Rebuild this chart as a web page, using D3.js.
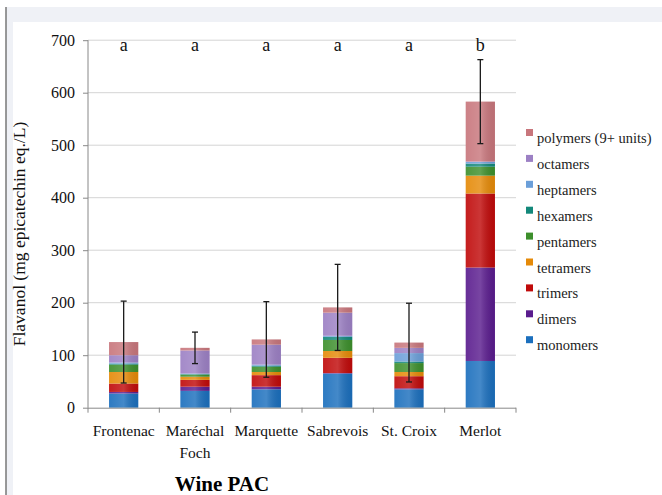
<!DOCTYPE html>
<html><head><meta charset="utf-8">
<script src="https://cdn.jsdelivr.net/npm/d3@7"></script>
<style>html,body{margin:0;padding:0;background:#fff;}svg{display:block;}</style>
</head><body>
<svg id="c" width="662" height="495"></svg>
<script>
const categories = ["Frontenac","Maréchal Foch","Marquette","Sabrevois","St. Croix","Merlot"];
const seriesNames = ["monomers","dimers","trimers","tetramers","pentamers","hexamers","heptamers","octamers","polymers (9+ units)"];
const monomers  = [27, 32, 35, 65, 35, 89];
const dimers    = [3, 8, 5, 1, 2, 178];
const trimers   = [16, 13, 22, 29, 23, 141];
const tetramers = [22, 6, 6, 13, 8, 34];
const pentamers = [14, 4, 10, 21, 17, 17];
const hexamers  = [2, 1, 2, 6, 3, 6];
const heptamers = [2, 1, 2, 2, 16, 3];
const octamers  = [14, 44, 38, 44, 10, 1];
const polymers  = [25, 5, 10, 10, 10, 114];
const errors    = [78, 30, 72, 82, 75, 80];
const letters   = ["a","a","a","a","a","b"];
const yTicks    = [0,100,200,300,400,500,600,700];
const colors    = ["#1b6fbd","#5a1c8e","#c00a0a","#e58a08","#3d8f2c","#13887a","#6b9fd9","#9c80c4","#c8767c"];

const seriesValues = [monomers,dimers,trimers,tetramers,pentamers,hexamers,heptamers,octamers,polymers];
const table = categories.map((c,i)=>{
  const o = {category:c};
  seriesNames.forEach((s,j)=>o[s]=seriesValues[j][i]);
  return o;
});

const svg = d3.select("#c");
const serif = "'Liberation Serif','Times New Roman',serif";

// frame
svg.append("rect").attr("x",6).attr("y",7).attr("width",656).attr("height",488).attr("fill","#eff1f6");
svg.append("rect").attr("x",13).attr("y",22).attr("width",649).attr("height",473).attr("fill","#fff");
svg.append("line").attr("x1",6).attr("x2",6).attr("y1",7).attr("y2",495).attr("stroke","#777").attr("stroke-width",1.5);

const x = d3.scaleBand().domain(categories).range([88,516]).padding(0);
const y = d3.scaleLinear().domain([0,700]).range([407.7,40.2]);

// gridlines
svg.append("g").selectAll("line").data(yTicks.filter(t=>t>0)).join("line")
  .attr("x1",88).attr("x2",516).attr("y1",d=>y(d)).attr("y2",d=>y(d))
  .attr("stroke","#d4d4d4").attr("stroke-width",1);

// gradient overlay
const defs = svg.append("defs");
const g = defs.append("linearGradient").attr("id","shine").attr("x1","0").attr("x2","1").attr("y1","0").attr("y2","0");
g.append("stop").attr("offset","0").attr("stop-color","#fff").attr("stop-opacity",0.08);
g.append("stop").attr("offset","0.5").attr("stop-color","#fff").attr("stop-opacity",0.18);
g.append("stop").attr("offset","1").attr("stop-color","#000").attr("stop-opacity",0.06);

const stack = d3.stack().keys(seriesNames)(table);
const bw = x.bandwidth()*0.41;
const off = (x.bandwidth()-bw)/2;

const layers = svg.append("g").selectAll("g").data(stack).join("g").attr("fill",(d,i)=>colors[i]);
layers.selectAll("rect").data(d=>d).join("rect")
  .attr("x",d=>x(d.data.category)+off).attr("width",bw)
  .attr("y",d=>y(d[1])).attr("height",d=>Math.max(0,y(d[0])-y(d[1])));
svg.append("g").selectAll("rect").data(table).join("rect")
  .attr("x",d=>x(d.category)+off).attr("width",bw)
  .attr("y",d=>y(d3.sum(seriesNames,s=>d[s]))).attr("height",d=>y(0)-y(d3.sum(seriesNames,s=>d[s])))
  .attr("fill","url(#shine)");

// error bars
const eb = svg.append("g").attr("stroke","#1a1a1a").attr("stroke-width",1.3);
table.forEach((d,i)=>{
  const tot = d3.sum(seriesNames,s=>d[s]);
  const cx = x(d.category)+x.bandwidth()/2;
  eb.append("line").attr("x1",cx).attr("x2",cx).attr("y1",y(tot+errors[i])).attr("y2",y(tot-errors[i]));
  [tot+errors[i],tot-errors[i]].forEach(v=>eb.append("line").attr("x1",cx-3).attr("x2",cx+3).attr("y1",y(v)).attr("y2",y(v)));
});

// axes
const ya = svg.append("g").attr("transform","translate(88,0)").call(d3.axisLeft(y).tickValues(yTicks).tickSize(5).tickPadding(8));
ya.select(".domain").attr("stroke","#888").attr("d","M0,"+y(700)+"V"+y(0));
ya.selectAll(".tick line").attr("stroke","#888");
ya.selectAll("text").attr("font-family",serif).attr("font-size",16).attr("fill","#111");

const xa = svg.append("g").attr("transform","translate(0,"+y(0)+")").call(d3.axisBottom(x).tickSize(0).tickFormat(""));
xa.select(".domain").attr("stroke","#888").attr("d","M88,0.5H516");
xa.selectAll(".tick").remove();
const bounds = categories.map(c=>x(c)).concat([x(categories[categories.length-1])+x.bandwidth()]);
xa.selectAll("line.b").data(bounds).join("line").attr("class","b")
  .attr("x1",d=>d).attr("x2",d=>d).attr("y1",0).attr("y2",5).attr("stroke","#888");

// category labels with wrapping
const labG = svg.append("g").attr("font-family",serif).attr("font-size",15.5).attr("fill","#111").attr("text-anchor","middle");
categories.forEach(c=>{
  const t = labG.append("text").attr("x",x(c)+x.bandwidth()/2).attr("y",436);
  const words = c.split(" ");
  let line = [], lines = [];
  const tmp = labG.append("text").attr("visibility","hidden");
  words.forEach(w=>{
    const test = line.concat([w]).join(" ");
    tmp.text(test);
    if (tmp.node().getComputedTextLength() > x.bandwidth()-2 && line.length){ lines.push(line.join(" ")); line=[w]; }
    else line.push(w);
  });
  lines.push(line.join(" "));
  tmp.remove();
  lines.forEach((l,k)=>t.append("tspan").attr("x",x(c)+x.bandwidth()/2).attr("dy",k===0?0:21.5).text(l));
});

// significance letters
svg.append("g").selectAll("text").data(categories).join("text")
  .attr("x",c=>x(c)+x.bandwidth()/2).attr("y",51)
  .attr("text-anchor","middle").attr("font-family",serif).attr("font-size",18).attr("fill","#111")
  .text((c,i)=>letters[i]);

// y title
svg.append("text").attr("transform","translate(25,234) rotate(-90)").attr("text-anchor","middle")
  .attr("font-family",serif).attr("font-size",17.5).attr("fill","#111").text("Flavanol (mg epicatechin eq./L)");

// x title
svg.append("text").attr("x",222).attr("y",491).attr("text-anchor","middle").attr("font-family",serif)
  .attr("font-size",21).attr("font-weight","bold").attr("fill","#000").text("Wine PAC");

// legend
const leg = svg.append("g").attr("font-family",serif).attr("font-size",14.5).attr("fill","#222");
const legOrder = seriesNames.map((s,i)=>({s,i})).reverse();
legOrder.forEach((d,k)=>{
  const cy = 139 + k*25.9;
  leg.append("rect").attr("x",526).attr("y",cy-10).attr("width",7).attr("height",7).attr("fill",colors[d.i]);
  leg.append("text").attr("x",537).attr("y",cy+4).text(d.s);
});
</script>
</body></html>
